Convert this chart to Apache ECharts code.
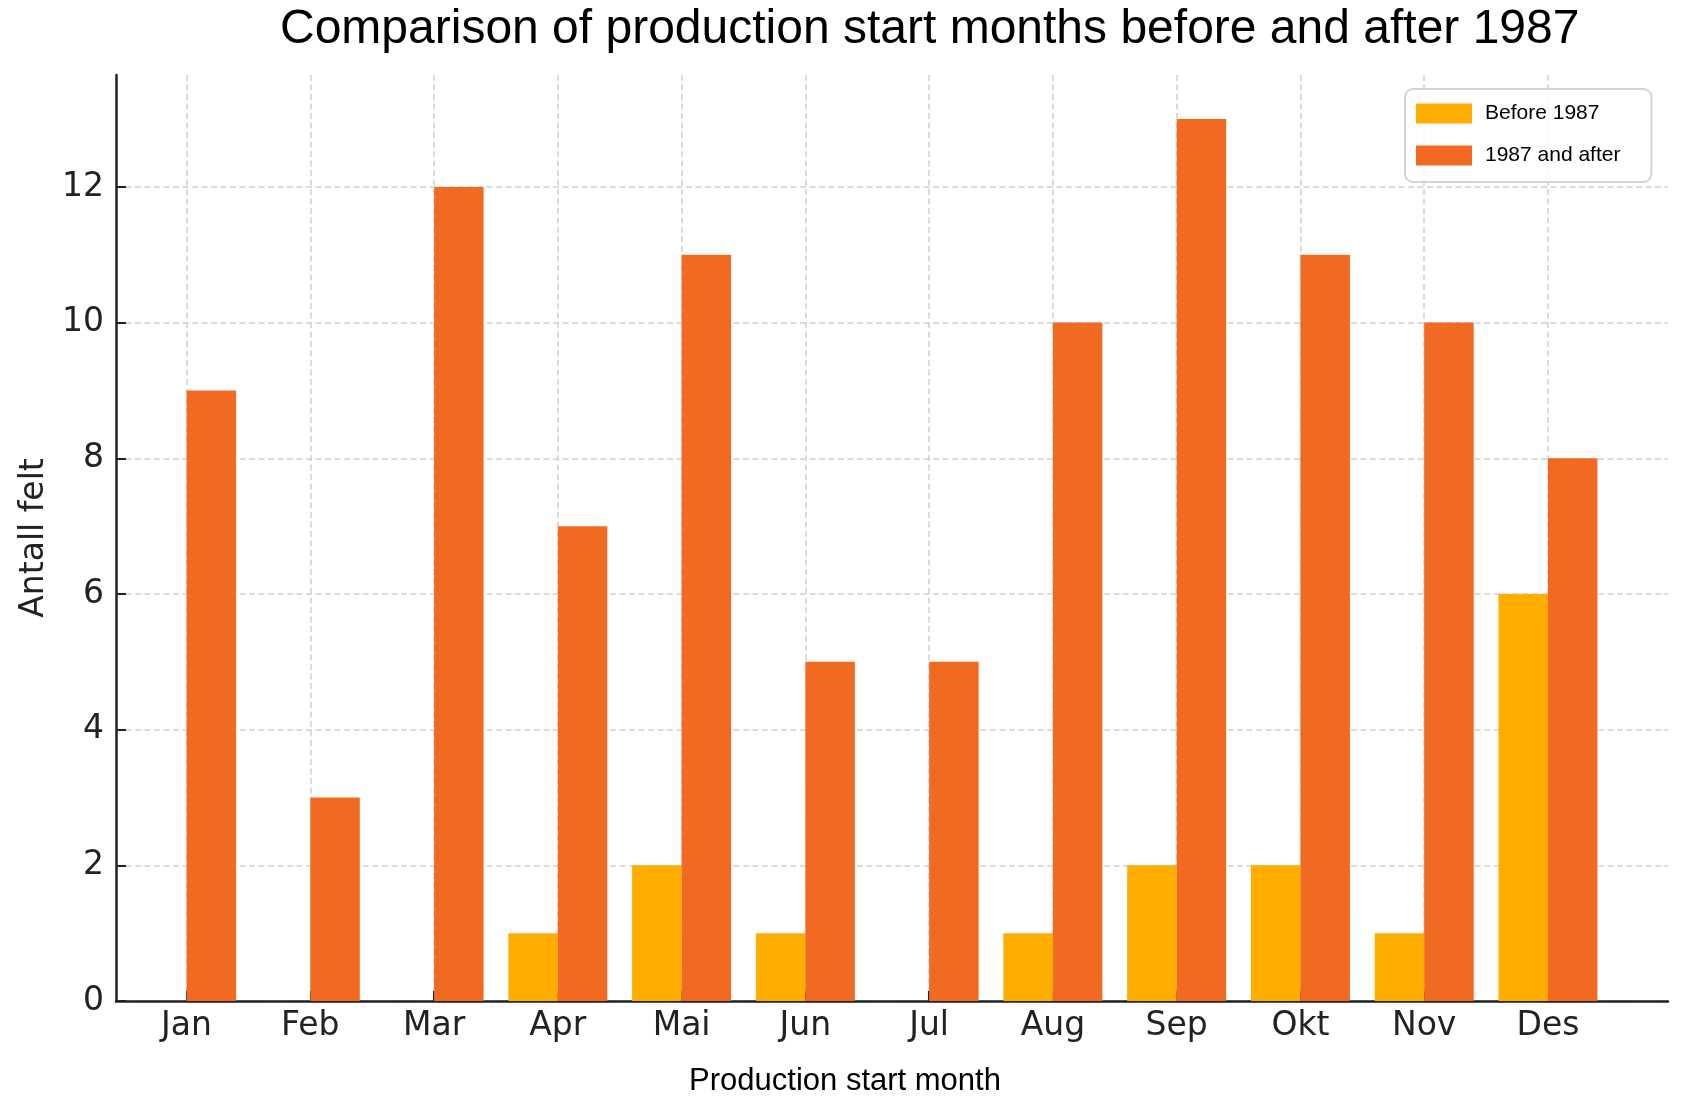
<!DOCTYPE html>
<html>
<head>
<meta charset="utf-8">
<script src="https://cdn.jsdelivr.net/npm/echarts@6/dist/echarts.min.js"></script>
<style>
html,body{margin:0;padding:0;background:#fff;}
#chart{width:1686px;height:1111px;}
</style>
</head>
<body>
<div id="chart"></div>
<script>
const months = ['Jan','Feb','Mar','Apr','Mai','Jun','Jul','Aug','Sep','Okt','Nov','Des'];
const before1987 = [0,0,0,1,2,1,0,1,2,2,1,6];
const after1987 = [9,3,12,7,11,5,5,10,13,11,10,8];
const yTicks = [0,2,4,6,8,10,12];
const monthIdx = months.map((m,i)=>i);

const xMin = -0.57, xMax = 11.97;
const yMin = 0, yMax = 13.65;
const gridLeft = 116, gridRight = 18, gridTop = 75, gridBottom = 110;
const W = 1686;
const pxPerUnit = (W - gridLeft - gridRight) / (xMax - xMin);
const barW = 0.4 * pxPerUnit;

const chart = echarts.init(document.getElementById('chart'));
const dashed = {color:'#cfcfcf', width:1.5, type:[6,3.5]};
chart.setOption({
  backgroundColor:'#fff',
  animation:false,
  title:{
    text:'Comparison of production start months before and after 1987',
    left:280, top:6,
    padding:0,
    textStyle:{fontFamily:'Liberation Sans', fontSize:48, fontWeight:'normal', color:'#000'}
  },
  legend:{
    data:['Before 1987','1987 and after'],
    orient:'vertical',
    left:1405, top:89,
    itemWidth:56, itemHeight:20, itemGap:21,
    padding:[14,31,16,11],
    borderColor:'#d4d4d4', borderWidth:2, borderRadius:8,
    backgroundColor:'rgba(255,255,255,0.8)',
    textStyle:{fontFamily:'Liberation Sans', fontSize:21, color:'#000', padding:[0,0,0,8]},
    icon:'rect'
  },
  grid:{left:gridLeft, right:gridRight, top:gridTop, bottom:gridBottom, containLabel:false},
  xAxis:{
    type:'value', min:xMin, max:xMax,
    name:'Production start month', nameLocation:'middle', nameGap:65,
    nameTextStyle:{fontFamily:'Liberation Sans', fontSize:31, color:'#000', padding:[0,94,0,0]},
    axisLine:{show:true, onZero:false, lineStyle:{color:'#222', width:2.5}},
    axisTick:{show:true, inside:true, length:10, customValues:monthIdx, lineStyle:{color:'#222', width:2}},
    axisLabel:{customValues:monthIdx, formatter:(v)=>months[Math.round(v)], margin:9,
      fontFamily:'DejaVu Sans', fontSize:33, color:'#222'},
    splitLine:{show:true, lineStyle:dashed}
  },
  yAxis:{
    type:'value', min:yMin, max:yMax,
    name:'Antall felt', nameLocation:'middle', nameGap:64, nameRotate:90,
    nameTextStyle:{fontFamily:'DejaVu Sans', fontSize:33, color:'#222'},
    axisLine:{show:true, onZero:false, lineStyle:{color:'#222', width:2.5}},
    axisTick:{show:true, inside:true, length:10, customValues:yTicks, lineStyle:{color:'#222', width:2}},
    axisLabel:{customValues:yTicks, margin:12, fontFamily:'DejaVu Sans', fontSize:33, color:'#222'},
    splitLine:{show:true, lineStyle:dashed}
  },
  series:[
    {name:'Before 1987', type:'bar', barWidth:barW, barGap:'0%',
     itemStyle:{color:'#FFAE00'}, data:before1987.map((v,i)=>[i,v])},
    {name:'1987 and after', type:'bar', barWidth:barW, barGap:'0%',
     itemStyle:{color:'#F26A22'}, data:after1987.map((v,i)=>[i,v])}
  ]
});
</script>
</body>
</html>
